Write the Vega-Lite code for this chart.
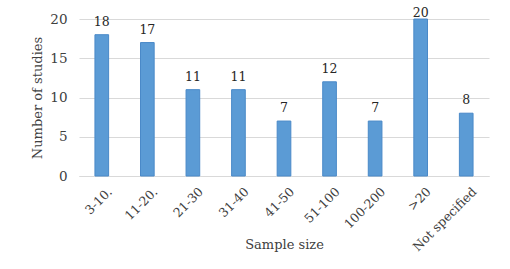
{
  "$schema": "https://vega.github.io/schema/vega-lite/v6.json",
  "width": 410,
  "height": 157,
  "autosize": {"type": "none"},
  "padding": {"left": 79, "top": 19, "right": 21, "bottom": 93},
  "background": "white",
  "config": {
    "font": "DejaVu Serif",
    "view": {"stroke": null}
  },
  "data": {
    "values": [
      {"size": "3-10.", "count": 18},
      {"size": "11-20.", "count": 17},
      {"size": "21-30", "count": 11},
      {"size": "31-40", "count": 11},
      {"size": "41-50", "count": 7},
      {"size": "51-100", "count": 12},
      {"size": "100-200", "count": 7},
      {"size": ">20", "count": 20},
      {"size": "Not specified", "count": 8}
    ]
  },
  "encoding": {
    "x": {
      "field": "size",
      "type": "nominal",
      "sort": null,
      "scale": {"paddingInner": 0.7, "paddingOuter": 0.35},
      "axis": {
        "title": "Sample size",
        "titleFont": "DejaVu Serif",
        "titleFontSize": 13,
        "titleFontWeight": "normal",
        "titleColor": "#404040",
        "titleY": 62,
        "titleBaseline": "top",
        "labelAngle": -45,
        "labelFont": "DejaVu Serif",
        "labelFontSize": 12.5,
        "labelColor": "#404040",
        "labelPadding": 9,
        "labelOffset": 4,
        "ticks": false,
        "domainColor": "#d9d9d9",
        "domainWidth": 1
      }
    },
    "y": {
      "field": "count",
      "type": "quantitative",
      "scale": {"domain": [0, 20]},
      "axis": {
        "title": "Number of studies",
        "titleFont": "DejaVu Serif",
        "titleFontSize": 13,
        "titleFontWeight": "normal",
        "titleColor": "#404040",
        "titlePadding": 5,
        "values": [0, 5, 10, 15, 20],
        "labelFont": "DejaVu Serif",
        "labelFontSize": 13.5,
        "labelColor": "#404040",
        "labelPadding": 12,
        "ticks": false,
        "domain": false,
        "gridColor": "#d9d9d9",
        "gridWidth": 1
      }
    }
  },
  "layer": [
    {
      "mark": {"type": "bar", "color": "#5b9bd5", "stroke": "#4a89c8", "strokeWidth": 1}
    },
    {
      "transform": [{"filter": "datum.count < 20"}],
      "mark": {"type": "text", "dy": -13, "fontSize": 12.5, "color": "#262626"},
      "encoding": {"text": {"field": "count", "type": "quantitative"}}
    },
    {
      "transform": [{"filter": "datum.count >= 20"}],
      "mark": {"type": "text", "dy": -6, "fontSize": 12.5, "color": "#262626"},
      "encoding": {"text": {"field": "count", "type": "quantitative"}}
    }
  ]
}
